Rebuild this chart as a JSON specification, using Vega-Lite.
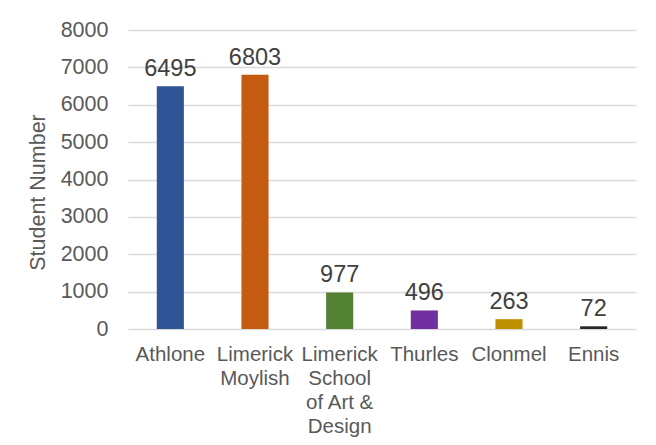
{
  "$schema": "https://vega.github.io/schema/vega-lite/v6.json",
  "autosize": "none",
  "width": 508,
  "height": 299,
  "padding": {"left": 128, "top": 30, "right": 20, "bottom": 116},
  "background": "white",
  "config": {
    "view": {"stroke": null},
    "font": "Liberation Sans"
  },
  "data": {
    "values": [
      {"campus": "Athlone", "students": 6495, "color": "#2F5597"},
      {"campus": "Limerick Moylish", "students": 6803, "color": "#C55A11"},
      {"campus": "Limerick School of Art & Design", "students": 977, "color": "#548235"},
      {"campus": "Thurles", "students": 496, "color": "#7030A0"},
      {"campus": "Clonmel", "students": 263, "color": "#BF9000"},
      {"campus": "Ennis", "students": 72, "color": "#262626"}
    ]
  },
  "encoding": {
    "x": {
      "field": "campus",
      "type": "nominal",
      "sort": null,
      "scale": {"paddingInner": 0.68, "paddingOuter": 0.34},
      "axis": {
        "title": null,
        "labelAngle": 0,
        "labelFontSize": 20.5,
        "labelColor": "#595959",
        "labelPadding": 15,
        "labelLineHeight": 24,
        "labelBaseline": "top",
        "ticks": false,
        "domain": false,
        "labelExpr": "datum.label == 'Limerick Moylish' ? ['Limerick', 'Moylish'] : datum.label == 'Limerick School of Art & Design' ? ['Limerick', 'School', 'of Art &', 'Design'] : datum.label"
      }
    },
    "y": {
      "field": "students",
      "type": "quantitative",
      "scale": {"domain": [0, 8000], "nice": false},
      "axis": {
        "title": "Student Number",
        "titleFontSize": 21.5,
        "titleFontWeight": "normal",
        "titleColor": "#595959",
        "titlePadding": 11,
        "titleY": 162,
        "values": [0, 1000, 2000, 3000, 4000, 5000, 6000, 7000, 8000],
        "format": "d",
        "labelFontSize": 21.5,
        "labelColor": "#595959",
        "labelPadding": 20,
        "ticks": false,
        "domain": false,
        "gridColor": "#D9D9D9",
        "gridWidth": 1.3
      }
    }
  },
  "layer": [
    {
      "mark": {"type": "bar"},
      "encoding": {
        "color": {"field": "color", "type": "nominal", "scale": null, "legend": null}
      }
    },
    {
      "mark": {"type": "text", "baseline": "alphabetic", "dy": -10, "fontSize": 23.5, "color": "#404040"},
      "encoding": {
        "text": {"field": "students", "type": "quantitative", "format": "d"}
      }
    }
  ]
}
